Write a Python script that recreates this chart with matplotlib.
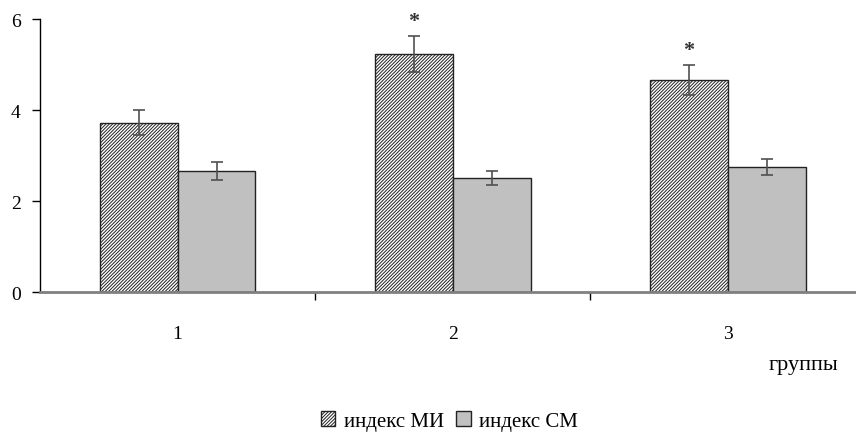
import matplotlib.pyplot as plt
import numpy as np

plt.rcParams['font.family'] = ['Liberation Serif', 'DejaVu Serif']
plt.rcParams['hatch.linewidth'] = 0.7

# data
groups = ['1', '2', '3']
mi_values = [3.72, 5.23, 4.66]
mi_errors = [0.28, 0.40, 0.34]
sm_values = [2.66, 2.51, 2.75]
sm_errors = [0.19, 0.16, 0.18]
mi_marks = ['', '*', '*']

fig = plt.figure(figsize=(8.56, 4.35), dpi=100)
ax = fig.add_axes([0.0467, 0.3264, 0.9533, 0.6276])

x = np.arange(len(groups))
w = 0.283

ax.bar(x - w / 2, mi_values, w, facecolor='white', edgecolor='#222222',
       hatch='//////////', linewidth=1.0, label='индекс МИ')
ax.bar(x + w / 2, sm_values, w, facecolor='#c0c0c0', edgecolor='#222222',
       linewidth=1.0, label='индекс СМ')
ax.errorbar(x - w / 2, mi_values, yerr=mi_errors, fmt='none', ecolor='#505050',
            elinewidth=1.2, capsize=4, capthick=1.2)
ax.errorbar(x + w / 2, sm_values, yerr=sm_errors, fmt='none', ecolor='#505050',
            elinewidth=1.2, capsize=4, capthick=1.2)

# significance stars
for xi, v, e, m in zip(x, mi_values, mi_errors, mi_marks):
    if m:
        ax.text(xi - w / 2, v + e + 0.1, m, ha='center', va='bottom',
                fontsize=16, fontweight='bold', color='#333333')

ax.set_xlim(-0.5, 2.465)
ax.set_ylim(0, 6)
ax.set_yticks([0, 2, 4, 6])
ax.tick_params(axis='y', labelsize=14, length=6, width=1, pad=8, colors='black')

ax.set_xticks(x)
ax.set_xticklabels(groups, fontsize=14)
ax.tick_params(axis='x', which='major', length=0, pad=24)
ax.set_xticks([0.5, 1.5], minor=True)
ax.tick_params(axis='x', which='minor', length=6, width=1, color='black')

for s in ['top', 'right']:
    ax.spines[s].set_visible(False)
ax.spines['left'].set_color('black')
ax.spines['left'].set_linewidth(1.0)
ax.spines['bottom'].set_color('#808080')
ax.spines['bottom'].set_linewidth(2.0)

fig.text(0.979, 0.16, 'группы', ha='right', va='center', fontsize=16)

fig.legend(loc='center', bbox_to_anchor=(0.525, 0.03), ncol=2, frameon=False,
           fontsize=15, handlelength=0.7, handleheight=0.7, handletextpad=0.4,
           columnspacing=0.6)

fig.savefig('out.png', dpi=100)
